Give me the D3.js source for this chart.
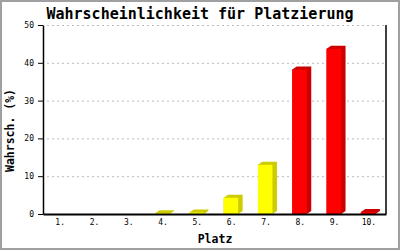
<!DOCTYPE html>
<html lang="de">
<head>
    <meta charset="utf-8">
    <title>Platzierung</title>
    <script src="https://d3js.org/d3.v7.min.js"></script>
    <style>
        body { margin: 0; background: #fff; }
        svg { display: block; }
        text { font-family: "DejaVu Sans Mono", "Liberation Mono", monospace; }
    </style>
</head>
<body>
    <div id="chart"></div>
    <script>
        // data
        const places = ['1.', '2.', '3.', '4.', '5.', '6.', '7.', '8.', '9.', '10.'];
        const probs = [0, 0, 0, 0.2, 0.4, 4.3, 13.0, 38.2, 43.7, 0.5];
        const barColors = ['yellow', 'yellow', 'yellow', 'yellow', 'yellow', 'yellow', 'yellow', 'red', 'red', 'red'];
        const yTicks = [0, 10, 20, 30, 40, 50];

        const svgWidth = 400, svgHeight = 250;
        const plotLeft = 43, plotRight = 386, plotTop = 25, plotBottom = 214;
        const depthX = 4.5, depthY = 3;

        const faces = {
            yellow: { front: '#ffff00', side: '#cccc00' },
            red: { front: '#ff0000', side: '#cc0000' }
        };

        const svg = d3.select('#chart').append('svg')
            .attr('width', svgWidth)
            .attr('height', svgHeight);

        svg.append('rect')
            .attr('x', 1).attr('y', 1)
            .attr('width', svgWidth - 2).attr('height', svgHeight - 2)
            .attr('fill', '#fff')
            .attr('stroke', '#a0a0a0')
            .attr('stroke-width', 2);

        const scaleX = d3.scaleBand()
            .domain(places)
            .range([plotLeft, plotRight]);

        const scaleY = d3.scaleLinear()
            .domain([0, 50])
            .range([plotBottom, plotTop]);

        // grid
        svg.append('g')
            .selectAll('line')
            .data(yTicks.filter(d => d > 0))
            .join('line')
            .attr('x1', plotLeft + 4).attr('x2', plotRight - 2)
            .attr('y1', d => scaleY(d) + 0.5).attr('y2', d => scaleY(d) + 0.5)
            .attr('stroke', '#bbbbbb')
            .attr('stroke-dasharray', '2,3');

        // bars
        const bars = svg.append('g')
            .selectAll('g')
            .data(places.map((p, i) => ({ place: p, value: probs[i], color: barColors[i] })).filter(d => d.value > 0))
            .join('g');

        const frontW = 14.5;
        const x0 = d => scaleX(d.place) + scaleX.bandwidth() / 2 - 8;

        bars.append('polygon')
            .attr('fill', d => faces[d.color].side)
            .attr('points', d => {
                const x = x0(d), yv = scaleY(d.value);
                return [[x, yv], [x + depthX, yv - depthY], [x + frontW + depthX, yv - depthY],
                    [x + frontW + depthX, plotBottom - depthY], [x + frontW, plotBottom], [x, plotBottom]].join(' ');
            });

        bars.append('rect')
            .attr('fill', d => faces[d.color].front)
            .attr('x', x0)
            .attr('y', d => scaleY(d.value))
            .attr('width', frontW)
            .attr('height', d => plotBottom - scaleY(d.value));

        // axes
        const yAxis = svg.append('g')
            .attr('transform', 'translate(' + plotLeft + ',0)')
            .call(d3.axisLeft(scaleY).tickValues(yTicks).tickSize(5).tickSizeOuter(0).tickPadding(4));
        yAxis.select('.domain').attr('stroke', '#000').attr('stroke-width', 1.5);
        yAxis.selectAll('.tick line').attr('stroke', '#000');
        yAxis.selectAll('text').style('font-size', '8px').attr('font-family', null).attr('fill', '#000');

        const xAxis = svg.append('g')
            .attr('transform', 'translate(0,' + plotBottom + ')')
            .call(d3.axisBottom(scaleX).tickSize(0).tickPadding(5));
        xAxis.select('.domain').attr('stroke', '#000').attr('stroke-width', 2);
        xAxis.selectAll('text').style('font-size', '8px').attr('font-family', null).attr('fill', '#000');

        svg.append('line')
            .attr('x1', plotRight).attr('x2', plotRight)
            .attr('y1', plotTop).attr('y2', plotBottom)
            .attr('stroke', '#000').attr('stroke-width', 1.5);

        // titles
        svg.append('text')
            .attr('x', 200).attr('y', 19)
            .attr('text-anchor', 'middle')
            .attr('font-weight', 'bold')
            .style('font-size', '15px')
            .text('Wahrscheinlichkeit für Platzierung');

        svg.append('text')
            .attr('x', 215).attr('y', 243)
            .attr('text-anchor', 'middle')
            .attr('font-weight', 'bold')
            .style('font-size', '11.5px')
            .text('Platz');

        svg.append('text')
            .attr('transform', 'translate(14,' + ((plotTop + plotBottom) / 2 + 11) + ') rotate(-90)')
            .attr('text-anchor', 'middle')
            .attr('font-weight', 'bold')
            .style('font-size', '11.5px')
            .text('Wahrsch. (%)');
    </script>
</body>
</html>
